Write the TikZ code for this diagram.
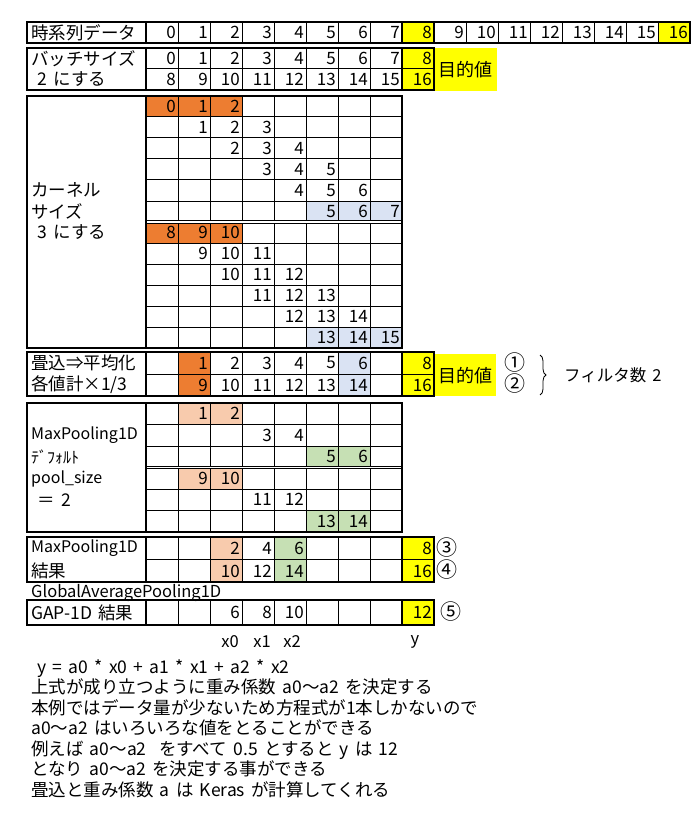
\documentclass[tikz,border=0pt]{standalone}
\usepackage{fontspec}
\setmainfont[WordSpace=1.6]{Noto Sans CJK JP}
\usetikzlibrary{decorations.pathreplacing}
\definecolor{HiOrange}{HTML}{ED7D31}
\definecolor{PaleOrange}{HTML}{F8CBAD}
\definecolor{PaleBlue}{HTML}{DAE3F3}
\definecolor{PaleGreen}{HTML}{C6E0B4}
\definecolor{Goal}{HTML}{FFFF00}
\tikzset{
  cellline/.style={draw=black, line width=1pt},
  frame/.style={draw=black, line width=2.8pt},
  num/.style={anchor=east, inner sep=1pt, font=\fontsize{17}{19}\selectfont},
  lbl/.style={anchor=west, inner sep=0pt, font=\fontsize{17.5}{19}\selectfont},
  latin/.style={lbl, font=\fontsize{16}{18}\selectfont},
  tagtext/.style={inner sep=0pt, font=\fontsize{16.5}{18}\selectfont},
  circled/.style={inner sep=0pt, font=\fontsize{21}{22}\selectfont},
  goalbox/.style={fill=Goal, inner sep=0pt, anchor=north west, font=\fontsize{18}{20}\selectfont},
  notes/.style={anchor=north west, align=left, inner sep=0pt, font=\fontsize{17.5}{20.5}\selectfont}
}

\begin{document}
\begin{tikzpicture}[x=1pt, y=-1pt]
\useasboundingbox (0,0) rectangle (700,821);

% time series
\fill[Goal] (402,22) rectangle (434,43) (658,22) rectangle (690,43);
\foreach \c in {1,...,16} \draw[cellline] ({146+32*\c},22) -- ({146+32*\c},43);
\foreach \c in {0,...,16} \node[num] (ts-\c) at ({177+32*\c},32.5) {\c};
\node[lbl] (ts-lbl) at (31,32.5) {時系列データ};
\draw[frame] (27,22) rectangle (690,43) (146,22) -- (146,43) (402,22) rectangle (434,43);

% batch size 2
\fill[Goal] (402,48) rectangle (434,90);
\foreach \c in {1,...,8} \draw[cellline] ({146+32*\c},48) -- ({146+32*\c},90);
\draw[cellline] (146,69) -- (434,69);
\foreach \c [evaluate=\c as \v using int(\c+8)] in {0,...,8} {
  \node[num] (bt-\c) at ({177+32*\c},58.5) {\c};
  \node[num] (bb-\c) at ({177+32*\c},79.5) {\v};
}
\node[lbl] (bt-lbl) at (31,58.5) {バッチサイズ};
\node[lbl] (bb-lbl) at (31,79.5) {\ 2 にする};
\node[goalbox, minimum width=63pt, minimum height=43pt] (goal-a) at (434,48) {目的値};
\draw[frame] (27,48) rectangle (434,90) (146,48) -- (146,90) (402,48) rectangle (434,90);

% kernel size 3
\fill[HiOrange] (146,96) rectangle (242,117) (146,222) rectangle (242,243);
\fill[PaleBlue] (306,201) rectangle (402,222) (306,327) rectangle (402,348);
\foreach \c in {1,...,7} \draw[cellline] ({146+32*\c},96) -- ({146+32*\c},348);
\foreach \r in {1,...,5,7,8,...,11} \draw[cellline] (146,{96+21*\r}) -- (402,{96+21*\r});
\draw[cellline, double, double distance=1.2pt] (146,222) -- (402,222);
\foreach \k in {0,...,5} \foreach \j in {0,1,2} {
  \pgfmathtruncatemacro\v{\k+\j}
  \pgfmathtruncatemacro\w{\k+\j+8}
  \node[num] (ku-\k-\j) at ({177+32*(\k+\j)},{106.5+21*\k}) {\v};
  \node[num] (kl-\k-\j) at ({177+32*(\k+\j)},{232.5+21*\k}) {\w};
}
\node[lbl] (kn-1) at (31,190) {カーネル};
\node[lbl] (kn-2) at (31,211) {サイズ};
\node[lbl] (kn-3) at (31,232) {\ 3 にする};
\draw[frame] (27,96) rectangle (402,348) (146,96) -- (146,348);

% convolution -> average
\fill[HiOrange] (178,352) rectangle (210,396);
\fill[PaleBlue] (338,352) rectangle (370,396);
\fill[Goal] (402,352) rectangle (434,396);
\foreach \c in {1,...,8} \draw[cellline] ({146+32*\c},352) -- ({146+32*\c},396);
\draw[cellline] (146,374) -- (434,374);
\foreach \c [evaluate=\c as \w using int(\c+8)] in {1,...,6} {
  \node[num] (av-\c) at ({177+32*\c},363) {\c};
  \node[num] (aw-\c) at ({177+32*\c},385) {\w};
}
\node[num] (av-8) at (433,363) {8};
\node[num] (aw-8) at (433,385) {16};
\node[lbl] (av-lbl) at (31,363) {畳込⇒平均化};
\node[lbl] (aw-lbl) at (31,385) {各値計×1/3};
\node[goalbox, minimum width=62pt, minimum height=42pt] (goal-b) at (434,354) {目的値};
\draw[frame] (27,352) rectangle (434,396) (146,352) -- (146,396) (402,352) rectangle (434,396);
\node[circled] (circ-1) at (515,363) {①};
\node[circled] (circ-2) at (515,384) {②};
\coordinate (br-top) at (540,355);
\coordinate (br-bot) at (540,395);
\draw[decorate, decoration={brace, amplitude=6pt}, line width=0.8pt] (br-top) -- (br-bot);
\node[lbl, font=\fontsize{16.5}{18}\selectfont] (filters) at (564,375) {フィルタ数 2};

% max pooling
\fill[PaleOrange] (178,403) rectangle (242,424.5) (178,467.5) rectangle (242,489);
\fill[PaleGreen] (306,446) rectangle (370,467.5) (306,510.5) rectangle (370,532);
\foreach \c in {1,...,7} \draw[cellline] ({146+32*\c},403) -- ({146+32*\c},532);
\foreach \r in {1,2,4,5} \draw[cellline] (146,{403+21.5*\r}) -- (402,{403+21.5*\r});
\draw[cellline, double, double distance=1.2pt] (146,467.5) -- (402,467.5);
\foreach \r in {0,1,2} \foreach \j in {1,2} {
  \pgfmathtruncatemacro\v{2*\r+\j}
  \pgfmathtruncatemacro\w{2*\r+\j+8}
  \node[num] (mu-\r-\j) at ({177+32*(2*\r+\j)},{413.75+21.5*\r}) {\v};
  \node[num] (ml-\r-\j) at ({177+32*(2*\r+\j)},{478.25+21.5*\r}) {\w};
}
\node[latin] (mp-1) at (31,435) {MaxPooling1D};
\node[latin] (mp-2) at (31,457) {ﾃﾞﾌｫﾙﾄ};
\node[latin] (mp-3) at (31,479) {pool\_size};
\node[lbl] (mp-4) at (31,500) {\ ＝ 2};
\draw[frame] (27,403) rectangle (402,532) (146,403) -- (146,532);

% max pooling result
\fill[PaleOrange] (210,537) rectangle (242,582);
\fill[PaleGreen] (274,537) rectangle (306,582);
\fill[Goal] (402,537) rectangle (434,582);
\foreach \c in {1,...,8} \draw[cellline] ({146+32*\c},537) -- ({146+32*\c},582);
\draw[cellline] (146,559.5) -- (434,559.5);
\foreach \c/\t/\b in {2/2/10, 3/4/12, 4/6/14, 8/8/16} {
  \node[num] (rt-\c) at ({177+32*\c},548) {\t};
  \node[num] (rb-\c) at ({177+32*\c},571) {\b};
}
\node[latin] (rt-lbl) at (31,548) {MaxPooling1D};
\node[lbl] (rb-lbl) at (31,571) {結果};
\draw[frame] (27,537) rectangle (434,582) (146,537) -- (146,582) (402,537) rectangle (434,582);
\node[circled] (circ-3) at (447,548) {③};
\node[circled] (circ-4) at (447,570) {④};

% global average pooling
\node[latin, font=\fontsize{16.5}{18}\selectfont] (gap-title) at (31,593) {GlobalAveragePooling1D};
\fill[Goal] (402,600) rectangle (434,625);
\foreach \c in {1,...,8} \draw[cellline] ({146+32*\c},600) -- ({146+32*\c},625);
\foreach \c/\v in {2/6, 3/8, 4/10, 8/12} \node[num] (gp-\c) at ({177+32*\c},612.5) {\v};
\node[lbl] (gp-lbl) at (31,612.5) {GAP-1D 結果};
\draw[frame] (27,600) rectangle (434,625) (146,600) -- (146,625) (402,600) rectangle (434,625);
\node[circled] (circ-5) at (451,612) {⑤};

\node[tagtext] (x0) at (230,642) {x0};
\node[tagtext] (x1) at (262,642) {x1};
\node[tagtext] (x2) at (292,642) {x2};
\node[tagtext] (yy) at (415,642) {y};

\node[notes] (expl) at (31,659) {\ y = a0 * x0 + a1 * x1 + a2 * x2\\
上式が成り立つように重み係数 a0〜a2 を決定する\\
本例ではデータ量が少ないため方程式が1本しかないので\\
a0〜a2 はいろいろな値をとることができる\\
例えば a0〜a2 \ をすべて 0.5 とすると y は 12\\
となり a0〜a2 を決定する事ができる\\
畳込と重み係数 a は Keras が計算してくれる};
\end{tikzpicture}
\end{document}
